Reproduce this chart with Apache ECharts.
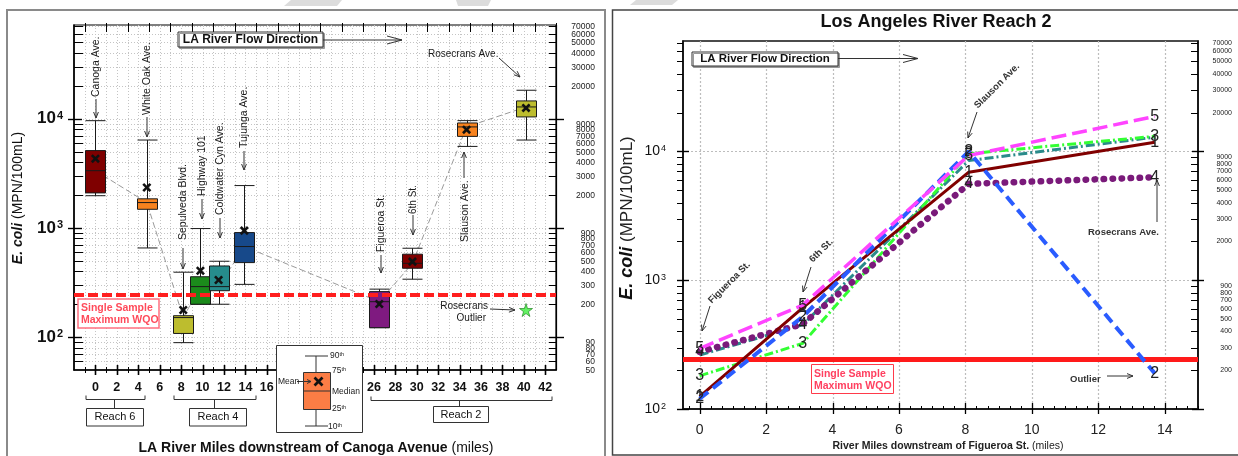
<!DOCTYPE html>
<html>
<head>
<meta charset="utf-8">
<title>LA River E. coli</title>
<script src="https://cdn.jsdelivr.net/npm/echarts@6/dist/echarts.min.js"></script>
<style>
html,body{margin:0;padding:0;background:#fff;}
#chart{width:1238px;height:456px;}
</style>
</head>
<body>
<div id="chart"></div>
<script>
const FONT = '"Liberation Sans", Arial, Helvetica, sans-serif';

// Stations along the river, miles downstream of Canoga Ave.
const stations = ['Canoga Ave.', 'White Oak Ave.', 'Sepulveda Blvd.', 'Highway 101', 'Coldwater Cyn Ave.',
  'Tujunga Ave.', 'Figueroa St.', '6th St.', 'Slauson Ave.', 'Rosecrans Ave.'];
const stationMiles = [0, 4.8, 8.2, 9.8, 11.5, 13.9, 26.5, 29.6, 34.65, 40.2];
const pct10 = [1970, 655, 89, 200, 200, 304, 122, 339, 5570, 6370];
const pct25 = [2090, 1480, 108, 200, 266, 481, 122, 427, 6880, 10370];
const pct50 = [3340, 1705, 151, 290, 290, 675, 211, 474, 8400, 12800];
const pct75 = [5100, 1845, 157, 357, 448, 906, 261, 574, 9130, 14530];
const pct90 = [9580, 6370, 393, 986, 495, 2440, 275, 651, 9590, 18200];
const means = [4300, 2340, 177, 405, 333, 944, 201, 491, 7930, 12540];
const outlierMiles = [40.2];
const outlierValues = [177];
const wqoLimit = 245;

// Reach 2 sampling events, miles downstream of Figueroa St.
const reach2Miles = [0, 3.1, 8.1, 13.7];
const event1 = [125, 610, 6900, 11800];
const event2 = [120, 520, 10000, 189];
const event3 = [181, 323, 9600, 13100];
const event4 = [278, 456, 5600, 6300];
const event5 = [295, 640, 9300, 18700];
const eventAverage = [262, 450, 8500, 12900];

// Tick values
const milesLabelsL = [0, 2, 4, 6, 8, 10, 12, 14, 16, 26, 28, 30, 32, 34, 36, 38, 40, 42];
const decades = [100, 1000, 10000];
const logMinorL = [60, 70, 80, 90, 200, 300, 400, 500, 600, 700, 800, 900,
  2000, 3000, 4000, 5000, 6000, 7000, 8000, 9000, 20000, 30000, 40000, 50000, 60000, 70000];
const rightLabelsL = [50, 60, 70, 80, 90, 200, 300, 400, 500, 600, 700, 800, 900,
  2000, 3000, 4000, 5000, 6000, 7000, 8000, 9000, 20000, 30000, 40000, 50000, 60000, 70000];
const logMinorR = [200, 300, 400, 500, 600, 700, 800, 900,
  2000, 3000, 4000, 5000, 6000, 7000, 8000, 9000, 20000, 30000, 40000, 50000, 60000, 70000];
const reach2Labels = [0, 2, 4, 6, 8, 10, 12, 14];

// Styles
const boxColors = ['#7f0000', '#f7821e', '#bdbd2e', '#1b8a1b', '#268c8c', '#17498a', '#7f1a80', '#7f0000', '#f7821e', '#bdbd2e'];
const BOX_HALF = 10;
const INK = '#333';

const chart = echarts.init(document.getElementById('chart'), null, { renderer: 'canvas' });

// every integer mile on the left panel, thirds of a mile on the right panel
const everyMileL = [];
for (let m = -1; m <= 42; m++) everyMileL.push(m);
const thirdsR = [];
for (let k = -1; k <= 45; k++) thirdsR.push(k / 3);

function supLabel(size, weight) {
  return {
    formatter: v => '{b|10}{s|' + Math.round(Math.log10(v)) + '}',
    rich: {
      b: { fontSize: size, fontWeight: weight, fontFamily: FONT, color: '#111' },
      s: { fontSize: Math.round(size * 0.62), fontWeight: weight, fontFamily: FONT, color: '#111', verticalAlign: 'top', padding: [0, 0, 0, 1] }
    }
  };
}

// horizontal gridlines, y ticks and the crowded right-hand value labels
function yFrame(xi, yi, values, o) {
  return {
    type: 'custom', xAxisIndex: xi, yAxisIndex: yi, silent: true, clip: false, z: 1, animation: false,
    data: values.map(v => [o.xRef, v]),
    renderItem(params, api) {
      const cs = params.coordSys;
      const v = api.value(1);
      const y = Math.round(api.coord([api.value(0), v])[1]) + 0.5;
      const L = cs.x, R = cs.x + cs.width;
      const major = decades.indexOf(v) >= 0;
      const ch = [];
      if (o.ticked.indexOf(v) >= 0 || major) {
        if (o.grid(v, major)) ch.push({ type: 'line', shape: { x1: L, y1: y, x2: R, y2: y }, style: { stroke: o.gridColor, lineWidth: 1, lineDash: o.gridDash } });
        const lt = major ? o.leftMajor : o.leftMinor;
        const rt = major ? o.rightMajor : o.rightMinor;
        const w = major ? 1.4 : 1;
        if (lt[0] + lt[1] > 0) ch.push({ type: 'line', shape: { x1: L - lt[0], y1: y, x2: L + lt[1], y2: y }, style: { stroke: '#000', lineWidth: w } });
        if (rt[0] + rt[1] > 0) ch.push({ type: 'line', shape: { x1: R - rt[1], y1: y, x2: R + rt[0], y2: y }, style: { stroke: '#000', lineWidth: w } });
      }
      if (o.labels.indexOf(v) >= 0) {
        ch.push({
          type: 'text', x: R + o.labelMargin, y: y,
          style: { text: String(v), fill: '#222', fontSize: o.labelSize, fontFamily: FONT, align: 'right', verticalAlign: 'middle', textAlign: 'right', textVerticalAlign: 'middle' }
        });
      }
      return { type: 'group', children: ch };
    }
  };
}

// vertical gridlines and x ticks
function xFrame(xi, yi, values, o) {
  return {
    type: 'custom', xAxisIndex: xi, yAxisIndex: yi, silent: true, clip: false, z: 1, animation: false,
    data: values.map(v => [v, o.yRef]),
    renderItem(params, api) {
      const cs = params.coordSys;
      const v = api.value(0);
      const x = Math.round(api.coord([v, api.value(1)])[0]) + 0.5;
      const T = cs.y, B = cs.y + cs.height;
      const k = o.kind(v);
      const ch = [];
      if (k.grid) ch.push({ type: 'line', shape: { x1: x, y1: T, x2: x, y2: B }, style: { stroke: o.gridColor, lineWidth: o.gridWidth || 1, lineDash: o.gridDash } });
      if (k.bottom) ch.push({ type: 'line', shape: { x1: x, y1: B - k.bottom[1], x2: x, y2: B + k.bottom[0] }, style: { stroke: '#000', lineWidth: k.w || 1 } });
      if (k.top) ch.push({ type: 'line', shape: { x1: x, y1: T - k.top[0], x2: x, y2: T + k.top[1] }, style: { stroke: '#000', lineWidth: k.w || 1 } });
      return { type: 'group', children: ch };
    }
  };
}

function near(a, b) { return Math.abs(a - b) < 1e-6; }
function union(a, b) { return a.concat(b.filter(v => a.indexOf(v) < 0)); }

const series = [];

// ---------- left panel ----------
series.push(yFrame(0, 0, union(decades.concat(logMinorL), rightLabelsL), {
  xRef: 0, gridColor: '#c4c4c4', gridDash: [1, 2],
  ticked: logMinorL, grid: () => true,
  leftMajor: [6, 8], leftMinor: [0, 9], rightMajor: [8, 7], rightMinor: [0, 7],
  labels: rightLabelsL, labelMargin: 39, labelSize: 8.5
}));
series.push(xFrame(0, 0, everyMileL, {
  yRef: 1000, gridColor: '#c4c4c4', gridDash: [1, 2],
  kind: v => {
    const even = near(v % 2, 0);
    return { grid: true, bottom: even ? [5, 5] : [3, 3], top: even ? null : [2, 7], w: even ? 1.6 : 1 };
  }
}));
series.push(xFrame(0, 0, [43], { yRef: 1000, kind: () => ({ top: [2, 7] }) }));

// median connector
series.push({
  type: 'line', xAxisIndex: 0, yAxisIndex: 0, z: 3, silent: true, animation: false,
  data: stationMiles.map((m, i) => [m, pct50[i]]),
  symbol: 'none',
  lineStyle: { color: '#9a9a9a', width: 1, type: [6, 3] }
});

// box plots
series.push({
  type: 'custom', xAxisIndex: 0, yAxisIndex: 0, z: 4, silent: true, animation: false,
  data: stationMiles.map((m, i) => [m, pct10[i], pct25[i], pct50[i], pct75[i], pct90[i], means[i], i]),
  encode: { x: 0, y: [1, 2, 3, 4, 5, 6] },
  renderItem(params, api) {
    const x = api.value(0);
    const c = v => api.coord([x, v]);
    const lo = c(api.value(1)), q1 = c(api.value(2)), md = c(api.value(3)), q3 = c(api.value(4)), hi = c(api.value(5)), mn = c(api.value(6));
    const col = boxColors[api.value(7)];
    const cx = Math.round(lo[0]) + 0.5;
    const hw = BOX_HALF, s = 3.6;
    const stroke = { stroke: '#1a1a1a', lineWidth: 1 };
    return {
      type: 'group', children: [
        { type: 'line', shape: { x1: cx, y1: lo[1], x2: cx, y2: hi[1] }, style: stroke },
        { type: 'line', shape: { x1: cx - hw, y1: lo[1], x2: cx + hw, y2: lo[1] }, style: stroke },
        { type: 'line', shape: { x1: cx - hw, y1: hi[1], x2: cx + hw, y2: hi[1] }, style: stroke },
        { type: 'rect', shape: { x: cx - hw, y: q3[1], width: 2 * hw, height: Math.max(q1[1] - q3[1], 1) }, style: { fill: col, stroke: '#1a1a1a', lineWidth: 1 } },
        { type: 'line', shape: { x1: cx - hw, y1: md[1], x2: cx + hw, y2: md[1] }, style: stroke },
        { type: 'line', shape: { x1: mn[0] - s, y1: mn[1] - s, x2: mn[0] + s, y2: mn[1] + s }, style: { stroke: '#111', lineWidth: 2.6 } },
        { type: 'line', shape: { x1: mn[0] - s, y1: mn[1] + s, x2: mn[0] + s, y2: mn[1] - s }, style: { stroke: '#111', lineWidth: 2.6 } }
      ]
    };
  }
});

// outlier star + water quality objective
series.push({
  type: 'scatter', xAxisIndex: 0, yAxisIndex: 0, z: 6, silent: true, animation: false,
  data: outlierMiles.map((m, i) => [m, outlierValues[i]]),
  symbol: 'path://M50,0 L61,35 L98,35 L68,57 L79,91 L50,70 L21,91 L32,57 L2,35 L39,35 Z',
  symbolSize: 13,
  itemStyle: { color: '#3cf03c', borderColor: '#167a16', borderWidth: 0.8 },
  markLine: {
    silent: true, symbol: 'none', animation: false,
    label: { show: false },
    lineStyle: { color: '#ff1f1f', width: 4, type: [10, 4] },
    data: [{ yAxis: wqoLimit }]
  }
});

// ---------- right panel ----------
series.push(yFrame(1, 2, decades.concat(logMinorR), {
  xRef: 0, gridColor: '#bdbdbd', gridDash: [2, 2],
  ticked: logMinorR, grid: (v, major) => major && v > 100,
  leftMajor: [6, 6], leftMinor: [6, 0], rightMajor: [6, 6], rightMinor: [0, 7],
  labels: logMinorR, labelMargin: 34, labelSize: 7
}));
series.push(xFrame(1, 2, thirdsR, {
  yRef: 1000, gridColor: '#bdbdbd', gridDash: [2, 2], gridWidth: 1.2,
  kind: v => {
    const isMajor = reach2Labels.some(t => near(t, v));
    return isMajor ? { grid: true, bottom: [5, 6], w: 1.3 } : { bottom: [0, 3] };
  }
}));

series.push({
  type: 'line', xAxisIndex: 1, yAxisIndex: 2, z: 2, silent: true, animation: false,
  data: [], symbol: 'none',
  markLine: {
    silent: true, symbol: 'none', animation: false,
    label: { show: false },
    lineStyle: { color: '#ff1a1a', width: 5, type: 'solid' },
    data: [{ yAxis: wqoLimit }]
  }
});

const eventSeries = [
  { data: eventAverage, label: '', color: '#2a8a8a', type: [9, 3, 2, 3], width: 3, cap: 'butt' },
  { data: event3, label: '3', color: '#33ff33', type: [9, 3, 2, 3], width: 3, cap: 'butt' },
  { data: event4, label: '4', color: '#7a1a7a', type: [0.5, 8.5], width: 6.5, cap: 'round' },
  { data: event1, label: '1', color: '#800000', type: 'solid', width: 3, cap: 'butt' },
  { data: event2, label: '2', color: '#2a5cff', type: [11, 6], width: 4, cap: 'butt' },
  { data: event5, label: '5', color: '#ff44ff', type: [15, 6], width: 3.5, cap: 'butt' }
];
eventSeries.forEach((e, i) => {
  series.push({
    type: 'line', xAxisIndex: 1, yAxisIndex: 2, z: 3 + i, silent: true, animation: false,
    data: reach2Miles.map((m, j) => [m, e.data[j]]),
    symbol: 'circle', symbolSize: 1, showSymbol: true,
    itemStyle: { color: 'rgba(0,0,0,0)' },
    lineStyle: { color: e.color, type: e.type, width: e.width, cap: e.cap },
    label: {
      show: e.label !== '', position: 'inside', formatter: e.label,
      color: '#222', fontSize: 16, fontFamily: FONT
    },
    labelLayout: { hideOverlap: false }
  });
});

// ---------- annotations ----------
function line(x1, y1, x2, y2, stroke, w) {
  return { type: 'line', silent: true, z: 100, shape: { x1, y1, x2, y2 }, style: { stroke: stroke || INK, lineWidth: w || 1 } };
}
function arrow(x1, y1, x2, y2, o) {
  o = o || {};
  const c = o.color || INK, w = o.width || 1, L = o.len || 7, W = o.half || 2.6;
  const a = Math.atan2(y2 - y1, x2 - x1);
  const bx = x2 - L * Math.cos(a), by = y2 - L * Math.sin(a);
  const px = -Math.sin(a) * W, py = Math.cos(a) * W;
  return [line(x1, y1, x2, y2, c, w),
    { type: 'polyline', silent: true, z: 100, shape: { points: [[bx + px, by + py], [x2, y2], [bx - px, by - py]] }, style: { stroke: c, fill: null, lineWidth: w } }];
}
function text(x, y, str, o) {
  o = o || {};
  const st = {
    text: str, fill: o.color || '#222', fontSize: o.size || 10, fontWeight: o.weight || 'normal',
    fontStyle: o.fstyle || 'normal', fontFamily: FONT,
    align: o.align || 'left', verticalAlign: o.valign || 'middle',
    textAlign: o.align || 'left', textVerticalAlign: o.valign || 'middle'
  };
  if (o.rich) st.rich = o.rich;
  return { type: 'text', silent: true, z: 101, x, y, rotation: o.rot || 0, style: st };
}
function rect(x, y, w, h, o) {
  o = o || {};
  return { type: 'rect', silent: true, z: o.z || 100, shape: { x, y, width: w, height: h },
    style: { fill: o.fill === undefined ? '#fff' : o.fill, stroke: o.stroke || INK, lineWidth: o.lw || 1,
      shadowColor: o.shadow || 'transparent', shadowOffsetX: o.shadow ? 1.5 : 0, shadowOffsetY: o.shadow ? 1.5 : 0 } };
}
function poly(points, o) {
  o = o || {};
  return { type: 'polygon', silent: true, z: 0, shape: { points }, style: { fill: o.fill, stroke: null } };
}
function polyline(points, o) {
  o = o || {};
  return { type: 'polyline', silent: true, z: 100, shape: { points }, style: { stroke: o.stroke || INK, fill: null, lineWidth: o.lw || 1 } };
}

const g = [];
// faint marks along the top edge
g.push(poly([[291, 0], [342, 0], [337, 6], [284, 6]], { fill: '#dcdcdc' }));
g.push(poly([[456, 0], [491, 0], [488, 6], [458, 6]], { fill: '#dcdcdc' }));
g.push(poly([[636, 0], [678, 0], [672, 5], [630, 5]], { fill: '#dcdcdc' }));

// panel frames
g.push(rect(7, 10, 598, 460, { fill: null, stroke: '#8a8a8a', lw: 2, z: 0 }));
g.push(rect(612.5, 10, 630, 445, { fill: null, stroke: '#444', lw: 1.5, z: 0 }));

// left panel: flow direction
g.push(rect(178, 32, 145, 15, { shadow: '#999' }));
g.push(text(250.5, 39.5, 'LA River Flow Direction', { size: 12, weight: 'bold', align: 'center', color: '#111' }));
g.push(...arrow(323, 40, 402, 40, { len: 15, half: 4 }));

// left panel: station call-outs (vertical text with down arrows)
const calloutsL = [
  { i: 0, cx: 96, bottom: 97, a: [99, 118] },
  { i: 1, cx: 147, bottom: 115, a: [117, 137] },
  { i: 2, cx: 183, bottom: 240, a: [248, 269] },
  { i: 3, cx: 202, bottom: 196, a: [199, 219] },
  { i: 4, cx: 220, bottom: 215, a: [218, 238] },
  { i: 5, cx: 244, bottom: 148, a: [151, 170] },
  { i: 6, cx: 381, bottom: 252, a: [255, 273] },
  { i: 7, cx: 413, bottom: 214, a: [215, 235] }
];
calloutsL.forEach(c => {
  g.push(text(c.cx, c.bottom, stations[c.i], { size: c.i === 7 ? 10 : 10.5, rot: Math.PI / 2, color: '#1a1a1a' }));
  g.push(...arrow(c.cx, c.a[0], c.cx, c.a[1], { len: 6, half: 2.4 }));
});
g.push(text(465, 242, stations[8], { size: 10.5, rot: Math.PI / 2, color: '#1a1a1a' }));
g.push(...arrow(464, 178, 464, 152, { len: 6, half: 2.4 }));
g.push(text(428, 54, stations[9], { size: 10, color: '#1a1a1a' }));
g.push(...arrow(499, 58, 520, 77, { len: 6, half: 2.4 }));

// left panel: WQO label and outlier note
g.push(rect(78, 299, 81, 29, { fill: '#fff', stroke: '#ff7080', lw: 1.5 }));
g.push(text(81, 308.5, 'Single Sample', { size: 10.5, weight: 'bold', color: '#ff4a5a' }));
g.push(text(81, 320, 'Maximum WQO', { size: 10.5, weight: 'bold', color: '#ff4a5a' }));
g.push(text(488, 306.5, 'Rosecrans', { size: 10, align: 'right', color: '#1a1a1a' }));
g.push(text(486, 318, 'Outlier', { size: 10, align: 'right', color: '#1a1a1a' }));
g.push(...arrow(490, 309, 515, 310, { len: 6, half: 2.4 }));

// left panel: box plot key
g.push(rect(276.5, 345.5, 86, 87, { fill: '#fff', stroke: '#333', lw: 1 }));
g.push(line(316, 356, 316, 426, '#333', 1));
g.push(line(305, 356, 328, 356, '#333', 1));
g.push(line(305, 426, 328, 426, '#333', 1));
g.push(rect(303.5, 372.5, 27, 37, { fill: '#fb7d45', stroke: '#333', lw: 1 }));
g.push(line(303.5, 391, 330.5, 391, '#333', 1));
g.push(line(314.5, 377.5, 322.5, 385.5, '#111', 2.6));
g.push(line(314.5, 385.5, 322.5, 377.5, '#111', 2.6));
const supRich = { n: { fontSize: 8.5, fontFamily: FONT, fill: '#222', color: '#222' }, t: { fontSize: 5.5, fontFamily: FONT, fill: '#222', color: '#222', verticalAlign: 'top' } };
g.push(text(330, 355.5, '{n|90}{t|th}', { rich: supRich }));
g.push(text(332, 371, '{n|75}{t|th}', { rich: supRich }));
g.push(text(332, 391.5, 'Median', { size: 8.5 }));
g.push(text(332, 409, '{n|25}{t|th}', { rich: supRich }));
g.push(text(328, 426.5, '{n|10}{t|th}', { rich: supRich }));
g.push(text(278, 381.5, 'Mean', { size: 8.5 }));
g.push(...arrow(297, 381.5, 311, 381.5, { len: 4, half: 2 }));

// left panel: reach brackets
function reach(x1, x2, y, cx, bx, by, bw, bh, label) {
  g.push(polyline([[x1, y - 4], [x1, y], [x2, y], [x2, y - 4]]));
  g.push(line(cx, y, cx, by, INK, 1));
  g.push(rect(bx, by, bw, bh, { fill: '#fff', stroke: '#333', lw: 1 }));
  g.push(text(bx + bw / 2, by + bh / 2, label, { size: 11, align: 'center', color: '#111' }));
}
reach(86, 145, 399.5, 114.5, 86.5, 408.5, 57, 17.5, 'Reach 6');
reach(174, 256, 399.5, 214.5, 189.5, 408.5, 57, 17.5, 'Reach 4');
reach(371, 552, 400.5, 459.5, 433.5, 406.5, 55, 16, 'Reach 2');

// left panel: axis titles
g.push(text(18, 198, '{i|E. coli} (MPN/100mL)', {
  size: 14, rot: Math.PI / 2, align: 'center', color: '#111',
  rich: { i: { fontSize: 14, fontWeight: 'bold', fontStyle: 'italic', fontFamily: FONT, fill: '#111', color: '#111' } }
}));
g.push(text(316, 448, '{b|LA River Miles downstream of Canoga Avenue} (miles)', {
  size: 14, align: 'center', color: '#111',
  rich: { b: { fontSize: 14, fontWeight: 'bold', fontFamily: FONT, fill: '#111', color: '#111' } }
}));

// right panel: title and axis titles
g.push(text(936, 22, 'Los Angeles River Reach 2', { size: 18, weight: 'bold', align: 'center', color: '#111' }));
g.push(text(627, 218, '{i|E. coli} (MPN/100mL)', {
  size: 17, rot: Math.PI / 2, align: 'center', color: '#222',
  rich: { i: { fontSize: 18, fontWeight: 'bold', fontStyle: 'italic', fontFamily: FONT, fill: '#111', color: '#111' } }
}));
g.push(text(948, 446, '{b|River Miles downstream of Figueroa St.} (miles)', {
  size: 10.5, align: 'center', color: '#222',
  rich: { b: { fontSize: 10.5, fontWeight: 'bold', fontFamily: FONT, fill: '#222', color: '#222' } }
}));

// right panel: flow direction
g.push(rect(692, 52, 146, 14, { shadow: '#999' }));
g.push(text(765, 59, 'LA River Flow Direction', { size: 11.5, weight: 'bold', align: 'center', color: '#111' }));
g.push(...arrow(838, 58.5, 918, 58.5, { len: 15, half: 4 }));

// right panel: station call-outs
const diag = Math.PI / 4;
g.push(text(710, 302, 'Figueroa St.', { size: 9.5, weight: 'bold', rot: diag, color: '#333' }));
g.push(...arrow(710, 306, 702, 331, { len: 6, half: 2.4 }));
g.push(text(811, 261, '6th St.', { size: 9.5, weight: 'bold', rot: diag, color: '#333' }));
g.push(...arrow(811, 267, 803, 292, { len: 6, half: 2.4 }));
g.push(text(976, 107, 'Slauson Ave.', { size: 9.5, weight: 'bold', rot: diag, color: '#333' }));
g.push(...arrow(977, 112, 968, 138, { len: 6, half: 2.4 }));
g.push(text(1088, 232, 'Rosecrans Ave.', { size: 9.5, weight: 'bold', color: '#333' }));
g.push(...arrow(1157, 222, 1157, 180, { len: 6, half: 2.4 }));
g.push(text(1070, 379, 'Outlier', { size: 9.5, weight: 'bold', color: '#333' }));
g.push(...arrow(1107, 376, 1133, 376, { len: 6, half: 2.4 }));

// right panel: WQO label
g.push(rect(811.5, 364.5, 82, 29, { fill: '#fff', stroke: '#ff3a4a', lw: 1 }));
g.push(text(814, 374.5, 'Single Sample', { size: 10.5, weight: 'bold', color: '#ff4060' }));
g.push(text(814, 386, 'Maximum WQO', { size: 10.5, weight: 'bold', color: '#ff4060' }));

const noTick = { show: false };
const noSplit = { show: false };

const option = {
  animation: false,
  backgroundColor: '#fff',
  textStyle: { fontFamily: FONT },
  grid: [
    { left: 74, top: 25, width: 482, height: 345, show: true, borderColor: '#000', borderWidth: 1.2, backgroundColor: 'transparent', containLabel: false },
    { left: 683, top: 41, width: 515, height: 368, show: true, borderColor: '#111', borderWidth: 1.6, backgroundColor: 'transparent', containLabel: false }
  ],
  xAxis: [
    {
      gridIndex: 0, type: 'value', min: -2, max: 43, position: 'bottom',
      axisLine: { show: true, onZero: false, lineStyle: { color: '#000', width: 1.5 } },
      axisTick: noTick, splitLine: noSplit,
      axisLabel: { customValues: milesLabelsL, margin: 11, fontSize: 12.5, fontWeight: 'bold', color: '#111', fontFamily: FONT }
    },
    {
      gridIndex: 1, type: 'value', min: -0.5, max: 15, position: 'bottom',
      axisLine: { show: true, onZero: false, lineStyle: { color: '#111', width: 1.6 } },
      axisTick: noTick, splitLine: noSplit,
      axisLabel: { customValues: reach2Labels, margin: 14, fontSize: 14, color: '#222', fontFamily: FONT }
    }
  ],
  yAxis: [
    {
      gridIndex: 0, type: 'log', logBase: 10, min: 50, max: 72000, position: 'left',
      axisLine: { show: true, onZero: false, lineStyle: { color: '#000', width: 1.5 } },
      axisTick: noTick, splitLine: noSplit,
      axisLabel: Object.assign({ customValues: decades, margin: 11 }, supLabel(17, 'bold'))
    },
    {
      gridIndex: 0, type: 'log', logBase: 10, min: 50, max: 72000, position: 'right',
      axisLine: { show: true, onZero: false, lineStyle: { color: '#000', width: 1.2 } },
      axisTick: noTick, splitLine: noSplit, axisLabel: { show: false }
    },
    {
      gridIndex: 1, type: 'log', logBase: 10, min: 100, max: 72000, position: 'left',
      axisLine: { show: true, onZero: false, lineStyle: { color: '#111', width: 1.6 } },
      axisTick: noTick, splitLine: noSplit,
      axisLabel: Object.assign({ customValues: decades, margin: 17 }, supLabel(14, 'normal'))
    },
    {
      gridIndex: 1, type: 'log', logBase: 10, min: 100, max: 72000, position: 'right',
      axisLine: { show: true, onZero: false, lineStyle: { color: '#111', width: 1.6 } },
      axisTick: noTick, splitLine: noSplit, axisLabel: { show: false }
    }
  ],
  series: series,
  graphic: { elements: g }
};

chart.setOption(option);
</script>
</body>
</html>
